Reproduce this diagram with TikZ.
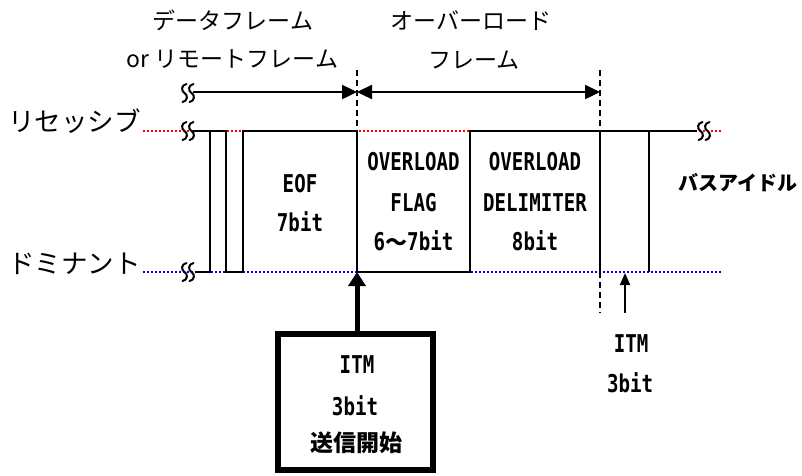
\documentclass[tikz,border=0pt]{standalone}
\usepackage{fontspec}
\setmainfont{Noto Sans CJK JP}
\newfontfamily\jp{Noto Sans CJK JP}
\newfontfamily\mono[FakeStretch=0.78]{DejaVu Sans Mono}
\usetikzlibrary{arrows.meta}
\tikzset{
  head/.style={font=\jp\fontsize{23}{23}\selectfont, anchor=base, inner sep=0pt},
  levellab/.style={font=\jp\fontsize{26.5}{26.5}\selectfont, anchor=base west, inner sep=0pt},
  idlelab/.style={font=\jp\bfseries\fontsize{20}{20}\selectfont, anchor=base, inner sep=0pt},
  mlab/.style={font=\mono\bfseries\fontsize{24.5}{24.5}\selectfont, anchor=base, inner sep=0pt},
  jlab/.style={font=\jp\bfseries\fontsize{23}{23}\selectfont, anchor=base, inner sep=0pt},
  sig/.style={line width=2pt, line join=miter},
  recline/.style={red, line width=1.6pt, dash pattern=on 1.6pt off 2.4pt},
  domline/.style={blue, line width=1.6pt, dash pattern=on 1.6pt off 2.4pt},
  bound/.style={line width=2pt, dash pattern=on 6pt off 4pt},
  span/.style={line width=2.4pt, -{Triangle[length=15pt,width=14pt]}},
  spanboth/.style={line width=2.4pt, {Triangle[length=15pt,width=14pt]}-{Triangle[length=15pt,width=14pt]}},
  bigarrow/.style={line width=5pt, -{Triangle[length=14pt,width=17pt]}},
  smallarrow/.style={line width=2pt, -{Triangle[length=12pt,width=10pt]}},
  itmbox/.style={draw, line width=5.5pt, minimum width=155pt, minimum height=136pt, inner sep=0pt},
  squig/.pic={
    \foreach \dx in {-3.5,3.5}{
      \draw[line width=2pt, line cap=round] (\dx+2,-9) .. controls (\dx-3.5,-8) and (\dx-3.5,-2) .. (\dx,0)
        .. controls (\dx+3.5,2) and (\dx+3.5,8) .. (\dx-2,9);
    }
  }
}
\begin{document}
\begin{tikzpicture}[x=1pt,y=-1pt]
\useasboundingbox (0,0) rectangle (802,475);

% level lines
\draw[recline] (143,131) -- (722,131);
\draw[domline] (143,272) -- (722,272);

% named coordinates
\coordinate (a0) at (193,92);
\coordinate (a1) at (357,92);
\coordinate (a2) at (600,92);
\coordinate (t357) at (357,70);
\coordinate (r357) at (357,131);
\coordinate (d357) at (357,272);
\coordinate (t600) at (600,70);
\coordinate (r600) at (600,131);
\coordinate (d600) at (600,272);
\coordinate (b600) at (600,313);
\coordinate (itmtip) at (625,273);
\coordinate (itmtail) at (625,313);

% signal
\draw[sig] (193,131) -- (226,131) -- (226,272) -- (243,272) -- (243,131) -- (r357) -- (d357)
  -- (470,272) -- (470,131) -- (697,131);
\draw[sig] (195,272) -- (210,272) -- (210,131);
\draw[sig] (r600) -- (d600);
\draw[sig] (649,131) -- (649,272);

% frame boundaries
\draw[bound] (t357) -- (r357);
\draw[bound] (t600) -- (r600);
\draw[bound] (d600) -- (b600);

% span arrows
\draw[span] (a0) -- (a1);
\draw[spanboth] (a1) -- (a2);

% squiggles
\pic at (188,93) {squig};
\pic at (188,131) {squig};
\pic at (188,272) {squig};
\pic at (704,131) {squig};

% headings
\node[head] (h1) at (233,29.7) {データフレーム};
\node[head] (h2) at (232.5,67.7) {or リモートフレーム};
\node[head] (h3) at (471,29) {オーバーロード};
\node[head] (h4) at (474,68) {フレーム};

% level labels
\node[levellab] (rec) at (8,131.5) {リセッシブ};
\node[levellab] (dom) at (8,273.5) {ドミナント};

% field labels
\node[mlab] (eof1) at (300,192) {EOF};
\node[mlab] (eof2) at (300,231) {7bit};
\node[mlab] (of1) at (413.5,170) {OVERLOAD};
\node[mlab] (of2) at (413.5,211) {FLAG};
\node[mlab] (of3) at (413.5,250) {6{\jp\fontsize{22}{22}\selectfont ～}7bit};
\node[mlab] (od1) at (535,170) {OVERLOAD};
\node[mlab] (od2) at (535,211) {DELIMITER};
\node[mlab] (od3) at (535,250) {8bit};
\node[idlelab] (idle) at (738,190) {バスアイドル};

% ITM box
\node[itmbox] (box) at (355.5,402) {};
\node[mlab] (b1) at (357,373) {ITM};
\node[mlab] (b2) at (355,415) {3bit};
\node[jlab] (b3) at (356,451) {送信開始};
\draw[bigarrow] (box.north -| d357) -- (d357);

% right ITM
\draw[smallarrow] (itmtail) -- (itmtip);
\node[mlab] (i1) at (631,352) {ITM};
\node[mlab] (i2) at (630,392) {3bit};
\end{tikzpicture}
\end{document}
